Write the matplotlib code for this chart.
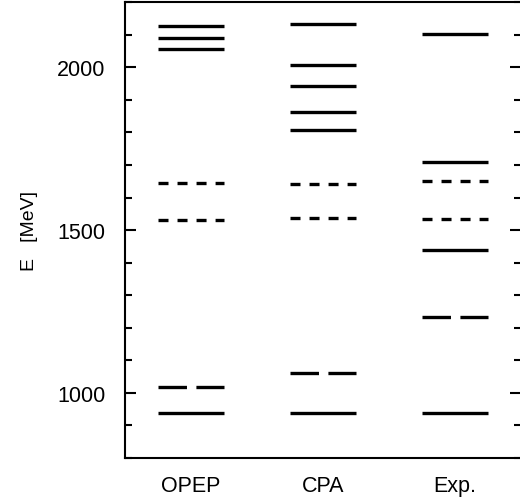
import matplotlib
matplotlib.use("Agg")
import matplotlib.pyplot as plt
from matplotlib.ticker import MultipleLocator

plt.rcParams["font.family"] = ["Liberation Sans", "DejaVu Sans"]
plt.rcParams["lines.scale_dashes"] = False

# level spectra (MeV)
models = ["OPEP", "CPA", "Exp."]

opep_solid = [2128, 2089, 2055, 939]
opep_short = [1646, 1530]
opep_long = [1017]

cpa_solid = [2134, 2007, 1943, 1862, 1806, 939]
cpa_short = [1641, 1537]
cpa_long = [1061]

exp_solid = [2101, 1710, 1440, 939]
exp_short = [1650, 1535]
exp_long = [1234]

SHORT_DASH = (0, (7.2, 6.5))
LONG_DASH = (0, (20.5, 6.8))
HALF_WIDTH = 0.25
LW = 2.4
FS = 15.5

fig = plt.figure(figsize=(5.2, 5.02), dpi=100)
ax = fig.add_axes([0.2404, 0.0857, 0.762, 0.908])

groups = [
    (opep_solid, opep_short, opep_long),
    (cpa_solid, cpa_short, cpa_long),
    (exp_solid, exp_short, exp_long),
]

for i, (solid, short, long_) in enumerate(groups):
    x0, x1 = i + 0.5 - HALF_WIDTH, i + 0.5 + HALF_WIDTH
    for e in solid:
        ax.plot([x0, x1], [e, e], color="black", lw=LW, solid_capstyle="butt")
    for e in short:
        ax.plot([x0, x1], [e, e], color="black", lw=LW, linestyle=SHORT_DASH)
    for e in long_:
        ax.plot([x0, x1], [e, e], color="black", lw=LW, linestyle=LONG_DASH)

ax.set_xlim(0, 3)
ax.set_ylim(800, 2200)
ax.set_xticks([0.5, 1.5, 2.5])
ax.set_xticklabels(models, fontsize=FS)
ax.tick_params(axis="x", length=0, pad=12)

ax.yaxis.set_major_locator(MultipleLocator(500))
ax.yaxis.set_minor_locator(MultipleLocator(100))
ax.tick_params(axis="y", which="both", direction="in", left=True, right=True,
               width=1.5, labelsize=FS, pad=14)
ax.tick_params(axis="y", which="major", length=8)
ax.tick_params(axis="y", which="minor", length=5)

for side in ["left", "top", "bottom", "right"]:
    ax.spines[side].set_linewidth(1.5)

ax.set_ylabel("E   [MeV]", fontsize=14, labelpad=14)

fig.savefig("out.png", dpi=100)
